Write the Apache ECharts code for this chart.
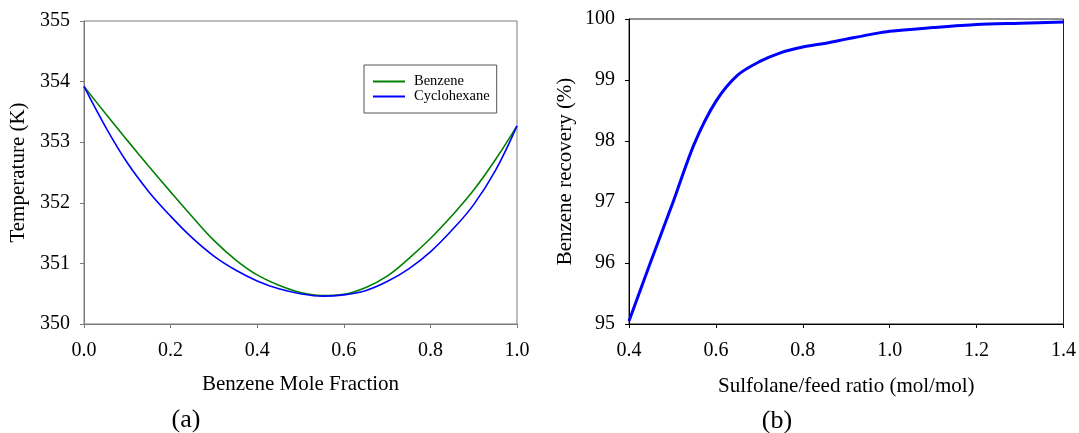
<!DOCTYPE html>
<html>
<head>
<meta charset="utf-8">
<script src="https://cdn.jsdelivr.net/npm/echarts@6/dist/echarts.min.js"></script>
<style>
  html, body { margin: 0; padding: 0; background: #fff; }
  #chart { width: 1079px; height: 433px; }
</style>
</head>
<body>
<div id="chart"></div>
<script>
// (a) T-x diagram: benzene / cyclohexane
const moleFraction = [0.00, 0.05, 0.10, 0.15, 0.20, 0.25, 0.30, 0.35, 0.40, 0.45, 0.50,
                      0.55, 0.60, 0.65, 0.70, 0.75, 0.80, 0.85, 0.90, 0.95, 1.00];
const benzeneT = [353.92, 353.47, 353.03, 352.60, 352.18, 351.77, 351.38, 351.06, 350.81, 350.64, 350.52,
                  350.47, 350.49, 350.60, 350.79, 351.08, 351.41, 351.79, 352.21, 352.71, 353.27];
const cyclohexaneT = [353.92, 353.25, 352.66, 352.18, 351.78, 351.42, 351.12, 350.89, 350.71, 350.58, 350.50,
                      350.46, 350.48, 350.55, 350.70, 350.91, 351.19, 351.55, 351.97, 352.53, 353.27];

// (b) benzene recovery vs solvent ratio
const solventRatio = [0.40, 0.45, 0.50, 0.55, 0.60, 0.65, 0.70, 0.75, 0.80, 0.85, 0.90, 0.95,
                      1.00, 1.10, 1.20, 1.30, 1.40];
const recovery = [95.05, 96.02, 96.97, 97.95, 98.65, 99.08, 99.30, 99.45, 99.54, 99.60, 99.67, 99.74,
                  99.80, 99.86, 99.91, 99.93, 99.95];

const seriesNames = ['Benzene', 'Cyclohexane'];
const xTitleA = 'Benzene Mole Fraction';
const yTitleA = 'Temperature (K)';
const xTitleB = 'Sulfolane/feed ratio (mol/mol)';
const yTitleB = 'Benzene recovery (%)';
const panelTags = ['(a)', '(b)'];

const FONT = "'Liberation Serif', 'Times New Roman', serif";
const pairs = (xs, ys) => xs.map((x, i) => [x, ys[i]]);

function axisStyle(color) {
  return {
    axisLine: { show: true, lineStyle: { color: color, width: 1 } },
    axisTick: { show: true, inside: false, length: 4, lineStyle: { color: color, width: 1 } },
    splitLine: { show: false },
    nameTextStyle: { fontFamily: FONT, fontSize: 21, color: '#000' }
  };
}

const tickFont = { fontFamily: FONT, fontSize: 20, color: '#000' };

const chart = echarts.init(document.getElementById('chart'), null, { renderer: 'canvas' });

const gray = '#7a7a7a';

chart.setOption({
  animation: false,
  backgroundColor: '#fff',
  grid: [
    { left: 84, top: 21, width: 433, height: 303, show: true, borderColor: gray, borderWidth: 1, backgroundColor: 'transparent' },
    { left: 629, top: 19, width: 437, height: 305, show: true, borderColor: '#222', borderWidth: 1, backgroundColor: 'transparent' }
  ],
  legend: {
    data: seriesNames,
    orient: 'vertical',
    left: 364,
    top: 65,
    icon: 'rect',
    itemWidth: 32,
    itemHeight: 2,
    itemGap: 0,
    padding: [9, 7, 9, 9],
    borderColor: '#555',
    borderWidth: 1,
    backgroundColor: '#fff',
    textStyle: { fontFamily: FONT, fontSize: 14.5, color: '#000', padding: [0, 0, 0, 4] }
  },
  xAxis: [
    Object.assign(axisStyle(gray), {
      type: 'value', gridIndex: 0, min: 0, max: 1, interval: 0.2,
      name: xTitleA, nameLocation: 'middle', nameGap: 50,
      axisLabel: Object.assign({ margin: 17, formatter: v => v.toFixed(1) }, tickFont)
    }),
    Object.assign(axisStyle('#000'), {
      type: 'value', gridIndex: 1, min: 0.4, max: 1.4, interval: 0.2,
      name: xTitleB, nameLocation: 'middle', nameGap: 52,
      axisLabel: Object.assign({ margin: 17, formatter: v => v.toFixed(1) }, tickFont)
    })
  ],
  yAxis: [
    Object.assign(axisStyle(gray), {
      type: 'value', gridIndex: 0, min: 350, max: 355, interval: 1,
      name: yTitleA, nameLocation: 'middle', nameGap: 55,
      axisLabel: Object.assign({ margin: 14 }, tickFont)
    }),
    Object.assign(axisStyle('#000'), {
      type: 'value', gridIndex: 1, min: 95, max: 100, interval: 1,
      name: yTitleB, nameLocation: 'middle', nameGap: 53,
      axisLabel: Object.assign({ margin: 14 }, tickFont)
    })
  ],
  series: [
    {
      name: seriesNames[0], type: 'line', xAxisIndex: 0, yAxisIndex: 0,
      data: pairs(moleFraction, benzeneT), smooth: 0.4, showSymbol: false,
      lineStyle: { color: '#008000', width: 1.6 }, itemStyle: { color: '#008000' }
    },
    {
      name: seriesNames[1], type: 'line', xAxisIndex: 0, yAxisIndex: 0,
      data: pairs(moleFraction, cyclohexaneT), smooth: 0.4, showSymbol: false,
      lineStyle: { color: '#0000ff', width: 1.6 }, itemStyle: { color: '#0000ff' }
    },
    {
      name: 'Recovery', type: 'line', xAxisIndex: 1, yAxisIndex: 1,
      data: pairs(solventRatio, recovery), smooth: 0.3, showSymbol: false,
      lineStyle: { color: '#0000ff', width: 3 }, itemStyle: { color: '#0000ff' }
    }
  ],
  graphic: [
    { type: 'text', x: 186, y: 420, style: { text: panelTags[0], fontFamily: FONT, fontSize: 26, fill: '#000', align: 'center', verticalAlign: 'middle' } },
    { type: 'text', x: 777, y: 421, style: { text: panelTags[1], fontFamily: FONT, fontSize: 26, fill: '#000', align: 'center', verticalAlign: 'middle' } }
  ]
});
</script>
</body>
</html>
